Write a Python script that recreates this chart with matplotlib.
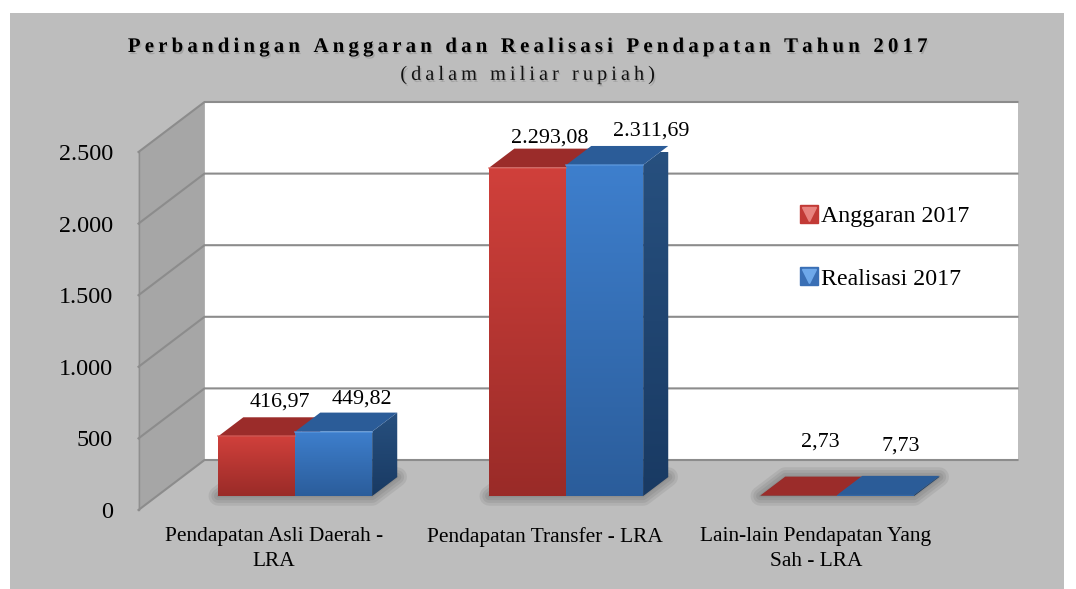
import numpy as np
import matplotlib
matplotlib.use('Agg')
import matplotlib.pyplot as plt
import matplotlib.patheffects as pe
from matplotlib.lines import Line2D
from matplotlib.patches import Polygon, Rectangle
from matplotlib.legend_handler import HandlerTuple

categories = ['Pendapatan Asli Daerah -\nLRA', 'Pendapatan Transfer - LRA', 'Lain-lain Pendapatan Yang\nSah - LRA']
anggaran = [416.97, 2293.08, 2.73]
realisasi = [449.82, 2311.69, 7.73]
anggaran_labels = ['416,97', '2.293,08', '2,73']
realisasi_labels = ['449,82', '2.311,69', '7,73']
yticks = [0, 500, 1000, 1500, 2000, 2500]
ytick_labels = ['0', '500', '1.000', '1.500', '2.000', '2.500']

plt.rcParams['font.family'] = ['Liberation Serif', 'DejaVu Serif']

W = 1076.0
H = 589.0
fig = plt.figure(figsize=(W / 100, H / 100), dpi=100, facecolor='white')

# front plane of the fake 3d box, in pixels
left, right, bottom, top = 138.5, 951.5, 510.0, 152.0
ax = fig.add_axes([left / W, 1 - bottom / H, (right - left) / W, (bottom - top) / H])
ax.patch.set_visible(False)
for s in ax.spines.values():
    s.set_visible(False)

fig.add_artist(Rectangle((10 / W, 0), 1054 / W, 1 - 13 / H, transform=fig.transFigure,
                         fc='#bdbdbd', ec='none', zorder=-5))

# oblique depth in data units: depth 1 is the back wall
DX = 66.0 / 271
DY = 50.0 * 2500 / 358


def pt(x, y, d):
    return (x + d * DX, y + d * DY)


def face(pts, c_top, c_bot, z):
    pts = np.array(pts)
    grad = np.linspace(0, 1, 64).reshape(-1, 1)
    c0 = np.array(matplotlib.colors.to_rgb(c_top))
    c1 = np.array(matplotlib.colors.to_rgb(c_bot))
    img = (c0 + (c1 - c0) * grad)[:, None, :].reshape(64, 1, 3)
    ext = [pts[:, 0].min(), pts[:, 0].max(), pts[:, 1].min(), pts[:, 1].max() + 0.01]
    im = ax.imshow(img, extent=ext, aspect='auto', origin='upper', zorder=z, interpolation='bilinear')
    im.set_clip_box(None)
    im.set_clip_path(Polygon(pts, transform=ax.transData))


# walls
ymax = yticks[-1]
ax.add_patch(Polygon([pt(0, 0, 1), pt(3, 0, 1), pt(3, ymax, 1), pt(0, ymax, 1)],
                     fc='white', ec='none', zorder=1, clip_on=False))
ax.add_patch(Polygon([pt(0, 0, 0), pt(0, 0, 1), pt(0, ymax, 1), pt(0, ymax, 0)],
                     fc='#a6a6a6', ec='none', zorder=1, clip_on=False))
ax.plot([0, 0], [0, ymax], color='#8f8f8f', lw=1, zorder=2, clip_on=False)
for v in yticks:
    a = pt(0, v, 0)
    b = pt(0, v, 1)
    c = pt(3, v, 1)
    ax.plot([a[0], b[0], c[0]], [a[1], b[1], c[1]], color='#8c8c8c', lw=1.5, zorder=2,
            clip_on=False, solid_joinstyle='miter')

# bars
bar_w = 0.284
shift = 0.01
d0, d1 = 0.28, 0.66

# floor shadow under each pair
for i in range(3):
    x0 = i + 0.5 + shift - bar_w
    x1 = i + 0.5 + shift + bar_w
    shadow = [pt(x0, 0, d0), pt(x1, 0, d0), pt(x1, 0, d1), pt(x0, 0, d1)]
    for lw in [14, 10, 6, 2]:
        ax.add_patch(Polygon(shadow, fc='#333333', ec='#333333', lw=lw, alpha=0.09, zorder=3,
                             joinstyle='round', clip_on=False))


def bar3d(x, v, front, side, roof, edge):
    x1 = x + bar_w
    face([pt(x, 0, d0), pt(x1, 0, d0), pt(x1, v, d0), pt(x, v, d0)], front[0], front[1], 4)
    face([pt(x1, 0, d0), pt(x1, 0, d1), pt(x1, v, d1), pt(x1, v, d0)], side[0], side[1], 4)
    ax.add_patch(Polygon([pt(x, v, d0), pt(x1, v, d0), pt(x1, v, d1), pt(x, v, d1)],
                         fc=roof, ec='none', zorder=4, clip_on=False))
    if v > 100:
        a, b = pt(x, v, d0), pt(x1, v, d0)
        ax.plot([a[0], b[0]], [a[1], b[1]], color=edge, lw=1.2, alpha=0.7, zorder=5, clip_on=False)


for i in range(3):
    x = i + 0.5 + shift
    bar3d(x - bar_w, anggaran[i], ('#d0403b', '#9a2b28'), ('#8a2623', '#6e1d1b'), '#9b2c2a', '#d9605b')
    bar3d(x, realisasi[i], ('#3e7fcd', '#2b5d9b'), ('#27507f', '#193a63'), '#2b5c98', '#5f9be0')

# value labels, offsets in pixels from the bar's front top edge
off_a = [(23, 34), (22, 30), (22, 54)]
off_r = [(28, 33), (47, 34), (25, 49)]
for i in range(3):
    for v, txt, off, x in [(anggaran[i], anggaran_labels[i], off_a[i], i + 0.5 + shift - bar_w / 2),
                           (realisasi[i], realisasi_labels[i], off_r[i], i + 0.5 + shift + bar_w / 2)]:
        ax.annotate(txt, xy=pt(x, v, d0), xytext=off, textcoords='offset pixels', ha='center', va='center',
                    fontsize=15.8, color='black', zorder=6, annotation_clip=False)

ax.set_xlim(0, 3)
ax.set_ylim(0, ymax)
ax.set_yticks(yticks)
ax.set_yticklabels(ytick_labels, fontsize=17.4)
ax.set_xticks([0.5, 1.5, 2.5])
ax.set_xticklabels(categories, fontsize=15.4, linespacing=1.42)
ax.tick_params(axis='y', length=0, pad=18.3)
ax.tick_params(axis='x', length=0, pad=12)

# title, letter spaced like the original
shadow_fx = [pe.withSimplePatchShadow(offset=(1, -1.5), shadow_rgbFace='#777777', alpha=0.35)]
title = 'Perbandingan Anggaran dan Realisasi Pendapatan Tahun 2017'
sub = '(dalam miliar rupiah)'
fig.text(527 / W, 1 - 47 / H, '\u2009'.join(title), ha='center', va='center', fontsize=15,
         fontweight='bold', color='black', path_effects=shadow_fx)
fig.text(527 / W, 1 - 75 / H, '\u2009'.join(sub), ha='center', va='center', fontsize=14.6,
         color='#111111', path_effects=shadow_fx)

# legend
h1 = (Line2D([], [], marker='s', ms=13, color='#c23a36', ls='none'),
      Line2D([], [], marker='v', ms=10, color='#e8837f', ls='none'))
h2 = (Line2D([], [], marker='s', ms=13, color='#3a6fb5', ls='none'),
      Line2D([], [], marker='v', ms=10, color='#6ea8ea', ls='none'))
leg = fig.legend([h1, h2], ['Anggaran 2017', 'Realisasi 2017'], loc='center left',
                 bbox_to_anchor=(785 / W, 1 - 247.5 / H), frameon=False, fontsize=17.2,
                 labelspacing=1.72, handlelength=1.0, handletextpad=0.0, borderpad=0,
                 handler_map={tuple: HandlerTuple(ndivide=1, pad=0)})
leg.set_zorder(7)

fig.savefig('out.png', dpi=100)
